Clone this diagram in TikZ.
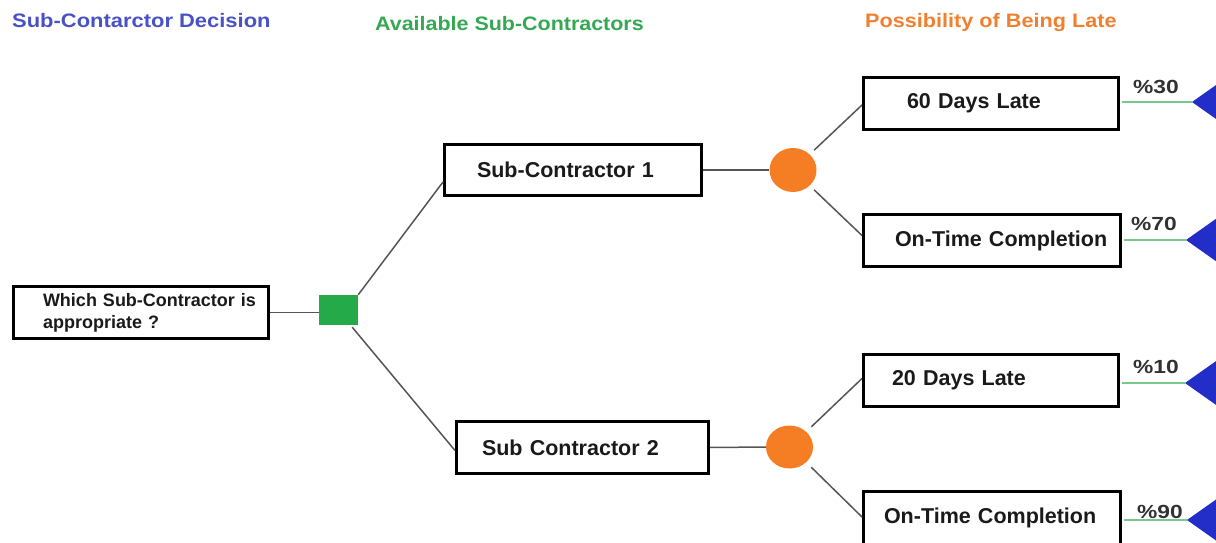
\documentclass[tikz,border=0pt]{standalone}
\usepackage{fontspec}
\setmainfont{Liberation Sans}
\usepackage{graphicx}
\usetikzlibrary{calc,shapes.geometric}
\definecolor{titleblue}{RGB}{72,82,196}
\definecolor{titlegreen}{RGB}{52,168,83}
\definecolor{titleorange}{RGB}{240,128,48}
\definecolor{sqgreen}{RGB}{36,170,72}
\definecolor{circorange}{RGB}{245,125,35}
\definecolor{triblue}{RGB}{35,45,200}
\definecolor{outgreen}{RGB}{120,200,140}
\definecolor{conngray}{RGB}{85,85,85}
\definecolor{boxtext}{RGB}{26,26,26}
\definecolor{pcttext}{RGB}{50,50,50}
\begin{document}
\begin{tikzpicture}[x=1pt,y=-1pt,
  box/.style={draw=black, line width=3pt, inner sep=0pt, align=left,
    font=\bfseries\fontsize{21.5}{26}\selectfont, text=boxtext},
  conn/.style={draw=conngray, line width=1.5pt},
  outline/.style={draw=outgreen, line width=1.5pt, shorten <=1.5pt},
  pct/.style={anchor=base west, inner sep=0pt, text=pcttext,
    font=\bfseries\fontsize{19}{22}\selectfont},
  heading/.style={anchor=base west, inner sep=0pt,
    font=\bfseries\fontsize{19.5}{23}\selectfont},
  decision/.style={fill=sqgreen, inner sep=0pt, minimum width=39pt, minimum height=30pt},
  chance/.style={ellipse, fill=circorange, inner sep=0pt},
  endtri/.style={fill=triblue}]
\useasboundingbox (0,0) rectangle (1216,543);
\clip (0,0) rectangle (1216,543);

% headings
\node[heading, text=titleblue] (h1) at (12,28) {\scalebox{1.125}[1]{Sub-Contarctor Decision}};
\node[heading, text=titlegreen] (h2) at (375,31) {\scalebox{1.1}[1]{Available Sub-Contractors}};
\node[heading, text=titleorange] (h3) at (865,28) {\scalebox{1.11}[1]{Possibility of Being Late}};

% boxes
\node[box, font=\bfseries\fontsize{18}{22}\selectfont, text width=255pt, minimum height=52pt]
  (root) at (141,312.5) {\hspace*{29.5pt}Which Sub-Contractor is\\\hspace*{29.5pt}appropriate ?};
\node[box, text width=257pt, minimum height=51pt] (s1) at (573,170) {\hspace*{32.5pt}Sub-Contractor 1};
\node[box, text width=252pt, minimum height=52pt] (s2) at (582.5,447.5) {\hspace*{25.5pt}Sub Contractor 2};
\node[box, text width=255pt, minimum height=52pt] (l1) at (991,103.5) {\hspace*{43.5pt}60 Days Late};
\node[box, text width=257pt, minimum height=52pt] (o1) at (992,240.5) {\hspace*{31.5pt}On-Time Completion};
\node[box, text width=255pt, minimum height=52pt] (l2) at (991,380.5) {\hspace*{28.5pt}20 Days Late};
\node[box, text width=257pt, minimum height=53pt] (o2) at (992,518) {\hspace*{20.5pt}On-Time Completion};

% decision and chance nodes
\node[decision] (sq) at (338.5,310) {};
\node[chance, minimum width=47pt, minimum height=44pt] (c1) at (793,170) {};
\node[chance, minimum width=47pt, minimum height=43pt] (c2) at (789.5,447) {};

% connectors
\draw[conn] (root.east) -- (root.east -| sq.west);
\draw[conn] (sq.north east) -- ($(s1.west)+(0,12)$);
\draw[conn] ($(sq.south east)+(-6,2)$) -- ($(s2.west)+(0,3)$);
\draw[conn] (s1.east) -- (c1.west);
\draw[conn] (s2.east) -- (c2.west);
\draw[conn, shorten <=6pt] (c1.north east) -- ($(l1.west)+(0,1.5)$);
\draw[conn, shorten <=6pt] (c1.south east) -- ($(o1.west)+(0,-5)$);
\draw[conn, shorten <=7pt] (c2.north east) -- ($(l2.west)+(0,-2)$);
\draw[conn, shorten <=7pt] (c2.south east) -- ($(o2.west)+(0,-1)$);

% end points
\coordinate (t1) at (1192,102);
\coordinate (t2) at (1186,240);
\coordinate (t3) at (1185,383);
\coordinate (t4) at (1187,520);
\draw[outline] (l1.east |- t1) -- (t1);
\draw[outline] (o1.east |- t2) -- (t2);
\draw[outline] (l2.east |- t3) -- (t3);
\draw[outline] (o2.east |- t4) -- (t4);
\foreach \t in {t1,t2,t3,t4}
  \fill[endtri] (\t) -- ++(34,-24) -- ++(0,48) -- cycle;

% probabilities
\node[pct] (p1) at (1133,93) {\scalebox{1.2}[1]{\%30}};
\node[pct] (p2) at (1131,230) {\scalebox{1.2}[1]{\%70}};
\node[pct] (p3) at (1133,373) {\scalebox{1.2}[1]{\%10}};
\node[pct] (p4) at (1137,518) {\scalebox{1.2}[1]{\%90}};
\end{tikzpicture}
\end{document}
